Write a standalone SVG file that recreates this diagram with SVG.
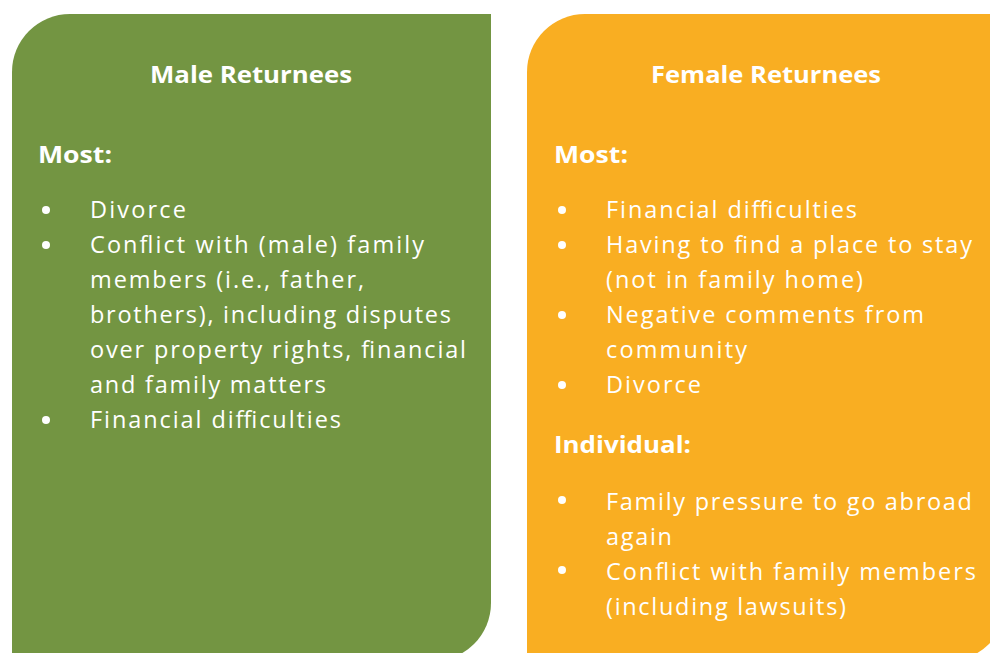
<svg xmlns="http://www.w3.org/2000/svg" width="990" height="653" viewBox="0 0 990 653">
<style>
text{font-family:"Open Sans","Liberation Sans",sans-serif;fill:#ffffff}
.h{font-size:24px;font-weight:bold}
.s{font-size:23px;font-weight:bold}
.b{font-size:23.5px}
.dot{fill:#ffffff}
</style>
<rect width="990" height="653" fill="#ffffff"/>
<g id="male">
<path d="M12 72 A58 58 0 0 1 70 14 L491 14 L491 603 A58 58 0 0 1 433 661 L12 661 Z" fill="#739542"/>
<text class="h" x="251" y="83" text-anchor="middle" textLength="202" lengthAdjust="spacingAndGlyphs">Male Returnees</text>
<text class="s" x="38" y="163" textLength="74" lengthAdjust="spacingAndGlyphs">Most:</text>
<circle class="dot" cx="46" cy="210" r="4"/>
<circle class="dot" cx="46" cy="245" r="4"/>
<circle class="dot" cx="46" cy="420" r="4"/>
<text class="b" x="90" y="218" textLength="96">Divorce</text>
<text class="b" x="90" y="253" textLength="334">Conflict with (male) family</text>
<text class="b" x="90" y="288" textLength="274">members (i.e., father,</text>
<text class="b" x="90" y="323" textLength="361">brothers), including disputes</text>
<text class="b" x="90" y="358" textLength="376">over property rights, financial</text>
<text class="b" x="90" y="393" textLength="236">and family matters</text>
<text class="b" x="90" y="428" textLength="251">Financial difficulties</text>
</g>
<g id="female">
<path d="M527 72 A58 58 0 0 1 585 14 L1006 14 L1006 603 A58 58 0 0 1 948 661 L527 661 Z" fill="#F9AE22"/>
<text class="h" x="766" y="83" text-anchor="middle" textLength="230" lengthAdjust="spacingAndGlyphs">Female Returnees</text>
<text class="s" x="554" y="163" textLength="74" lengthAdjust="spacingAndGlyphs">Most:</text>
<text class="s" x="554" y="453" textLength="137" lengthAdjust="spacingAndGlyphs">Individual:</text>
<circle class="dot" cx="562" cy="210" r="4"/>
<circle class="dot" cx="562" cy="245" r="4"/>
<circle class="dot" cx="562" cy="315" r="4"/>
<circle class="dot" cx="562" cy="385" r="4"/>
<circle class="dot" cx="562" cy="500" r="4"/>
<circle class="dot" cx="562" cy="570" r="4"/>
<text class="b" x="606" y="218" textLength="251">Financial difficulties</text>
<text class="b" x="606" y="253" textLength="366">Having to find a place to stay</text>
<text class="b" x="606" y="288" textLength="257">(not in family home)</text>
<text class="b" x="606" y="323" textLength="318">Negative comments from</text>
<text class="b" x="606" y="358" textLength="141">community</text>
<text class="b" x="606" y="393" textLength="95">Divorce</text>
<text class="b" x="606" y="510" textLength="366">Family pressure to go abroad</text>
<text class="b" x="606" y="545" textLength="66">again</text>
<text class="b" x="606" y="580" textLength="370">Conflict with family members</text>
<text class="b" x="606" y="615" textLength="240">(including lawsuits)</text>
</g>
<g id="connectors"></g>
</svg>
